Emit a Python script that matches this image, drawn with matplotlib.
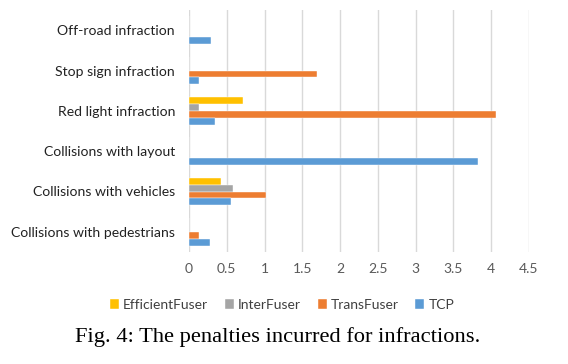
import matplotlib
matplotlib.use("Agg")
import matplotlib.pyplot as plt
import numpy as np

categories = ["Collisions with pedestrians", "Collisions with vehicles", "Collisions with layout",
              "Red light infraction", "Stop sign infraction", "Off-road infraction"]
series_names = ["EfficientFuser", "InterFuser", "TransFuser", "TCP"]
efficientfuser = [0.0, 0.42, 0.0, 0.72, 0.0, 0.0]
interfuser = [0.0, 0.58, 0.0, 0.13, 0.0, 0.0]
transfuser = [0.13, 1.02, 0.0, 4.06, 1.69, 0.0]
tcp = [0.28, 0.56, 3.82, 0.34, 0.13, 0.29]
colors = ["#FFC000", "#A5A5A5", "#ED7D31", "#5B9BD5"]
xticks = [0, 0.5, 1, 1.5, 2, 2.5, 3, 3.5, 4, 4.5]
caption = "Fig. 4: The penalties incurred for infractions."

fig = plt.figure(figsize=(5.68, 3.64), dpi=100)
ax = fig.add_axes([189/568, 1 - 252/364, (529-189)/568, (252-10)/364])

y = np.arange(len(categories))
h = 0.173
data = [efficientfuser, interfuser, transfuser, tcp]
for i, (name, vals, c) in enumerate(zip(series_names, data, colors)):
    offset = (1.5 - i) * h
    ax.barh(y + offset, vals, height=h, color=c, label=name, zorder=3,
            edgecolor="white", linewidth=0.3)

ax.set_xlim(0, 4.5)
ax.set_ylim(-0.5, len(categories) - 0.5)
ax.set_xticks(xticks)
ax.set_xticklabels([f"{t:g}" for t in xticks], fontsize=10, color="#595959", family="Lato")
ax.set_yticks(y)
ax.set_yticklabels(categories, fontsize=10.1, color="#222222", family="Lato")
ax.grid(axis="x", color="#D9D9D9", linewidth=1, zorder=0)
for s in ax.spines.values():
    s.set_visible(False)
ax.tick_params(length=0, pad=8)
ax.tick_params(axis="y", pad=10)

handles, labels = ax.get_legend_handles_labels()
fig.legend(handles, labels, loc="center", bbox_to_anchor=(282/568, 1 - 305/364), ncol=4,
           frameon=False, prop={"family": "Lato", "size": 10}, handlelength=0.65, handleheight=0.65,
           handletextpad=0.3, columnspacing=1.2, labelcolor="#404040")

fig.text(278/568, 1 - 337/364, caption, ha="center", va="center", fontsize=16.2,
         family="Liberation Serif")

fig.savefig("out.png", dpi=100)
